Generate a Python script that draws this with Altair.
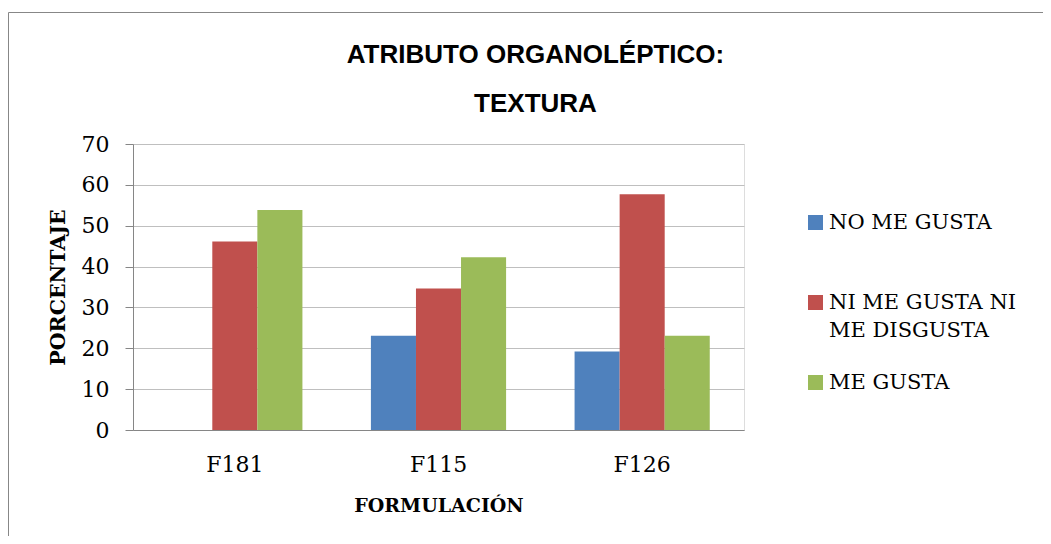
import altair as alt
import pandas as pd

formulaciones = ["F181", "F115", "F126"]
series = ["NO ME GUSTA", "NI ME GUSTA NI ME DISGUSTA", "ME GUSTA"]
no_me_gusta = [0.0, 23.08, 19.23]
ni_me_gusta_ni_me_disgusta = [46.15, 34.62, 57.69]
me_gusta = [53.85, 42.31, 23.08]
colores = ["#4F81BD", "#C0504D", "#9BBB59"]
y_ticks = [0, 10, 20, 30, 40, 50, 60, 70]

rows = []
for serie, vals in zip(series, [no_me_gusta, ni_me_gusta_ni_me_disgusta, me_gusta]):
    for f, v in zip(formulaciones, vals):
        rows.append({"Formulacion": f, "Serie": serie, "Porcentaje": v})
df = pd.DataFrame(rows)

W, H = 611, 286
PAD_L, PAD_T = 125, 136
PAD_R, PAD_B = 1035 - W - PAD_L, 528 - H - PAD_T

label_expr = (
    "datum.label == 'NI ME GUSTA NI ME DISGUSTA' ? ['NI ME GUSTA NI', 'ME DISGUSTA'] : "
    "(datum.label == 'NO ME GUSTA' ? ['NO ME GUSTA', ' '] : datum.label)"
)

bars = alt.Chart(df).mark_bar().encode(
    x=alt.X(
        "Formulacion:N",
        sort=formulaciones,
        scale=alt.Scale(paddingInner=0, paddingOuter=0),
        axis=alt.Axis(
            title="FORMULACIÓN",
            labelAngle=0,
            ticks=False,
            labelFont="DejaVu Serif",
            labelFontSize=22,
            labelColor="#000000",
            labelPadding=24,
            titleFont="DejaVu Serif",
            titleFontSize=19,
            titleFontWeight="bold",
            titleColor="#000000",
            titlePadding=21,
            domainColor="#868686",
            domainWidth=1,
        ),
    ),
    xOffset=alt.XOffset(
        "Serie:N", sort=series, scale=alt.Scale(paddingInner=0, paddingOuter=0.76)
    ),
    y=alt.Y(
        "Porcentaje:Q",
        scale=alt.Scale(domain=[0, 70], nice=False),
        axis=alt.Axis(
            title="PORCENTAJE",
            values=y_ticks,
            labelFont="DejaVu Serif",
            labelFontSize=22,
            labelColor="#000000",
            labelPadding=16,
            tickSize=8,
            tickColor="#868686",
            domainColor="#868686",
            gridColor="#BFBFBF",
            titleFont="DejaVu Serif",
            titleFontSize=20.5,
            titleFontWeight="bold",
            titleColor="#000000",
            titlePadding=13,
        ),
    ),
    color=alt.Color(
        "Serie:N",
        sort=series,
        scale=alt.Scale(domain=series, range=colores),
        legend=alt.Legend(
            title=None,
            orient="none",
            legendX=672,
            legendY=68,
            symbolType="square",
            symbolSize=225,
            symbolStrokeWidth=0,
            labelFont="DejaVu Serif",
            labelFontSize=21,
            labelColor="#000000",
            labelOffset=3,
            labelLimit=400,
            rowPadding=30,
            labelExpr=label_expr,
        ),
    ),
)

border = alt.Chart(pd.DataFrame({"a": [0]})).mark_rect(
    fill="transparent", stroke="#878787", strokeWidth=1, clip=False
).encode(
    x=alt.value(-124.5),
    x2=alt.value(W + PAD_R + 20),
    y=alt.value(-131.5),
    y2=alt.value(H + PAD_B + 20),
)

chart = alt.layer(border, bars).properties(
    width=W,
    height=H,
    autosize=alt.AutoSizeParams(type="none"),
    padding={"left": PAD_L, "top": PAD_T, "right": PAD_R, "bottom": PAD_B},
    title=alt.Title(
        ["ATRIBUTO ORGANOLÉPTICO:", "TEXTURA"],
        font="Liberation Sans",
        fontSize=26,
        fontWeight="bold",
        color="#000000",
        lineHeight=49,
        anchor="middle",
        dx=97,
        offset=-105,
    ),
).configure_view(strokeWidth=0).configure(
    style={"guide-label": {"lineHeight": 28}}
)

chart.save("out.html", embed_options={"renderer": "svg", "actions": False})
